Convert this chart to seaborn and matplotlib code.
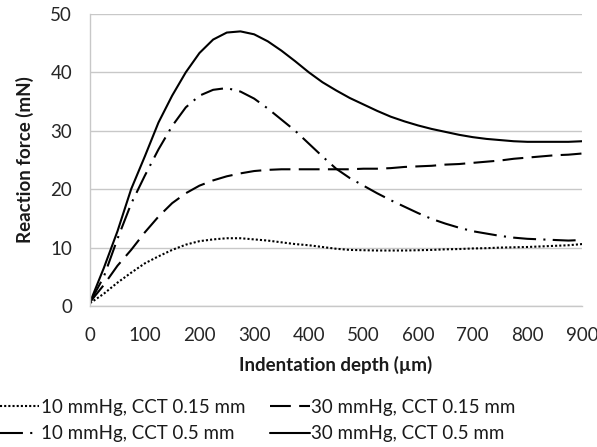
import matplotlib
matplotlib.use("Agg")
import matplotlib.pyplot as plt
import seaborn as sns
import pandas as pd

depth = [0, 25, 50, 75, 100, 125, 150, 175, 200, 225, 250, 275, 300, 325, 350, 375,
         400, 425, 450, 475, 500, 525, 550, 575, 600, 625, 650, 675, 700, 725, 750,
         775, 800, 825, 850, 875, 900]
f_10_015 = [0.5, 2.1, 4.0, 5.7, 7.3, 8.5, 9.6, 10.5, 11.1, 11.4, 11.6, 11.6, 11.4, 11.2, 10.9, 10.6,
            10.4, 10.1, 9.8, 9.6, 9.55, 9.5, 9.5, 9.5, 9.55, 9.6, 9.7, 9.75, 9.85, 9.9, 10.0,
            10.05, 10.1, 10.2, 10.3, 10.4, 10.6]
f_30_015 = [0.7, 3.6, 6.9, 9.6, 12.6, 15.3, 17.6, 19.3, 20.6, 21.5, 22.2, 22.7, 23.1, 23.3, 23.4, 23.4,
            23.4, 23.4, 23.4, 23.4, 23.5, 23.5, 23.6, 23.8, 23.9, 24.0, 24.2, 24.3, 24.5, 24.7, 24.9,
            25.2, 25.4, 25.6, 25.8, 25.9, 26.1]
f_10_05 = [0.7, 5.0, 11.5, 17.5, 22.3, 26.8, 30.8, 34.0, 36.0, 37.0, 37.3, 36.7, 35.5, 33.8, 31.9, 30.0,
           27.8, 25.6, 23.5, 21.9, 20.6, 19.3, 18.1, 17.0, 15.9, 14.9, 14.1, 13.4, 12.8, 12.4, 12.0,
           11.7, 11.5, 11.4, 11.3, 11.2, 11.3]
f_30_05 = [0.7, 6.5, 12.8, 20.0, 25.6, 31.4, 36.0, 40.0, 43.3, 45.6, 46.8, 47.0, 46.5, 45.3, 43.7, 41.9,
           40.0, 38.3, 36.9, 35.6, 34.5, 33.4, 32.4, 31.6, 30.9, 30.3, 29.8, 29.3, 28.9, 28.6, 28.4,
           28.2, 28.1, 28.1, 28.1, 28.1, 28.2]
labels = ["10 mmHg, CCT 0.15 mm", "10 mmHg, CCT 0.5 mm",
          "30 mmHg, CCT 0.15 mm", "30 mmHg, CCT 0.5 mm"]
xticks = [0, 100, 200, 300, 400, 500, 600, 700, 800, 900]
yticks = [0, 10, 20, 30, 40, 50]

series = {labels[0]: f_10_015, labels[1]: f_10_05, labels[2]: f_30_015, labels[3]: f_30_05}
df = pd.concat([pd.DataFrame({"depth": depth, "force": v, "series": k}) for k, v in series.items()])

sns.set_style("white")
plt.rcParams['font.family'] = ['Lato', 'DejaVu Sans']

fig = plt.figure(figsize=(5.97, 4.47), dpi=100)
ax = fig.add_axes([0.151, 0.3154, 0.824, 0.6536])

dashes = {labels[0]: (1, 1), labels[1]: (11, 3.5, 1, 3.5),
          labels[2]: (10, 4), labels[3]: ""}
sns.lineplot(data=df, x="depth", y="force", hue="series", style="series",
             palette=["black"] * 4, dashes=dashes, hue_order=labels,
             style_order=labels, ax=ax, linewidth=1.5, legend=True)

ax.set_xlim(0, 900)
ax.set_ylim(0, 50)
ax.set_xticks(xticks)
ax.set_yticks(yticks)
ax.yaxis.grid(True, color="#c8c8c8", linewidth=1.0)
ax.set_axisbelow(True)
for s in ["top", "right"]:
    ax.spines[s].set_visible(False)
for s in ["left", "bottom"]:
    ax.spines[s].set_color("#c8c8c8")
    ax.spines[s].set_linewidth(1.0)
ax.tick_params(axis="x", length=0, labelsize=13.5, colors="#262626", pad=15)
ax.tick_params(axis="y", length=0, labelsize=13.5, colors="#262626", pad=13)
ax.set_xlabel("Indentation depth (µm)", fontsize=13.5, fontweight="bold", labelpad=9,
              color="#1a1a1a")
ax.set_ylabel("Reaction force (mN)", fontsize=13.5, fontweight="bold", labelpad=12,
              color="#1a1a1a")

handles, labs = ax.get_legend_handles_labels()
leg = ax.legend(handles, labs, loc="upper left", bbox_to_anchor=(0.0, 1 - 399 / 447),
                bbox_transform=fig.transFigure,
                ncol=2, frameon=False, fontsize=13.5, handlelength=2.1, handletextpad=0.1,
                columnspacing=1.3, labelspacing=0.5, borderaxespad=0, borderpad=0)
for t in leg.get_texts():
    t.set_color("#1a1a1a")

fig.savefig("out.png", dpi=100)
